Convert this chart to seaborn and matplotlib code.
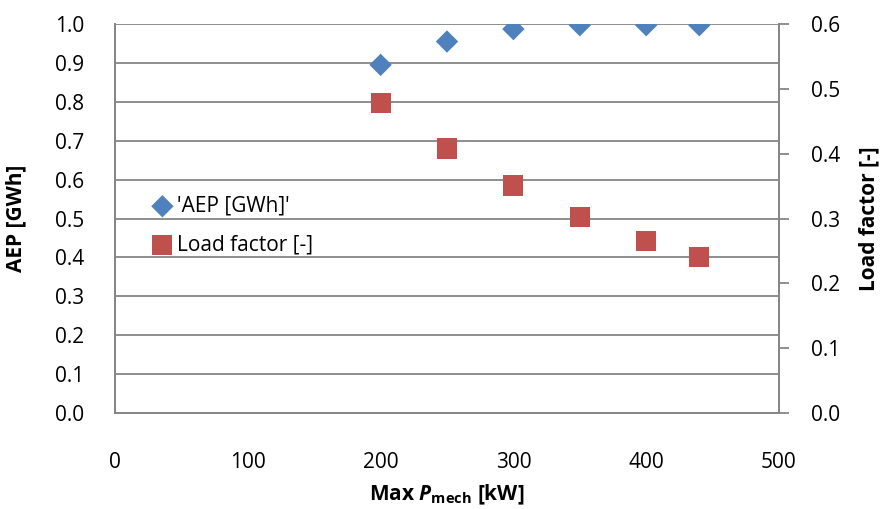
import pandas as pd
import numpy as np
import matplotlib
matplotlib.use("Agg")
import matplotlib.pyplot as plt
import seaborn as sns

# data
p_max = [200, 250, 300, 350, 400, 440]
aep = [0.895, 0.955, 0.987, 0.997, 0.997, 0.997]
load_factor = [0.478, 0.408, 0.351, 0.303, 0.265, 0.240]

left_ticks = [0.0, 0.1, 0.2, 0.3, 0.4, 0.5, 0.6, 0.7, 0.8, 0.9, 1.0]
right_ticks = [0.0, 0.1, 0.2, 0.3, 0.4, 0.5, 0.6]
x_ticks = [0, 100, 200, 300, 400, 500]

sns.set_theme(style="white")
plt.rcParams['font.family'] = ['Open Sans', 'DejaVu Sans']
plt.rcParams['text.color'] = 'black'
plt.rcParams['axes.labelcolor'] = 'black'
plt.rcParams['mathtext.fontset'] = 'custom'
plt.rcParams['mathtext.rm'] = 'Open Sans:bold'
plt.rcParams['mathtext.it'] = 'Open Sans:italic:bold'
plt.rcParams['mathtext.bf'] = 'Open Sans:bold'

df = pd.DataFrame({'p': p_max, 'aep': aep, 'lf': load_factor})

grey = '#868686'
blue = '#4F81BD'
red = '#C0504D'
fs = 15

fig = plt.figure(figsize=(8.82, 5.09), dpi=100)
ax = fig.add_axes([0.1304, 0.1886, 0.7528, 0.7642])
ax2 = ax.twinx()

sns.scatterplot(data=df, x='p', y='aep', ax=ax, marker='D', s=130, color=blue,
                edgecolor='none', label="'AEP [GWh]'", legend=False, zorder=3)
sns.scatterplot(data=df, x='p', y='lf', ax=ax2, marker='s', s=210, color=red,
                edgecolor='none', label='Load factor [-]', legend=False, zorder=3)

ax.set_xlim(0, 500)
ax.set_ylim(0, 1.0)
ax2.set_ylim(0, 0.6)
ax.set_xticks(x_ticks)
ax.set_yticks(left_ticks)
ax2.set_yticks(right_ticks)
ax.set_xticklabels([str(v) for v in x_ticks])
ax.set_yticklabels([f'{v:.1f}' for v in left_ticks])
ax2.set_yticklabels([f'{v:.1f}' for v in right_ticks])

ax.grid(axis='y', color=grey, linewidth=1.3)
ax.set_axisbelow(True)
ax.tick_params(axis='x', length=0, pad=28, labelsize=fs, labelcolor='black')
ax.tick_params(axis='y', length=0, pad=22, labelsize=fs, labelcolor='black')
ax2.tick_params(axis='y', length=7, width=1.3, color=grey, pad=16, labelsize=fs,
                direction='out', labelcolor='black')

for a in (ax, ax2):
    for side, sp in a.spines.items():
        sp.set_color(grey)
        sp.set_linewidth(1.3)
    a.spines['top'].set_visible(False)

ax.set_xlabel(r"Max $\mathit{P}_{\mathrm{mech}}$ [kW]", fontsize=fs, fontweight='bold')
ax.set_ylabel('AEP [GWh]', fontsize=fs, fontweight='bold')
ax2.set_ylabel('Load factor [-]', fontsize=fs, fontweight='bold', rotation=90)
ax.xaxis.set_label_coords(0.5, -0.18)
ax.yaxis.set_label_coords(-0.134, 0.5)
ax2.yaxis.set_label_coords(1.119, 0.5)

h1, l1 = ax.get_legend_handles_labels()
h2, l2 = ax2.get_legend_handles_labels()
leg = ax.legend(h1 + h2, l1 + l2, loc='upper left', bbox_to_anchor=(0.04, 0.58),
                frameon=False, fontsize=fs, handletextpad=0.1, borderaxespad=0,
                labelspacing=0.85, handlelength=1.2)

fig.savefig('out.png', dpi=100)
